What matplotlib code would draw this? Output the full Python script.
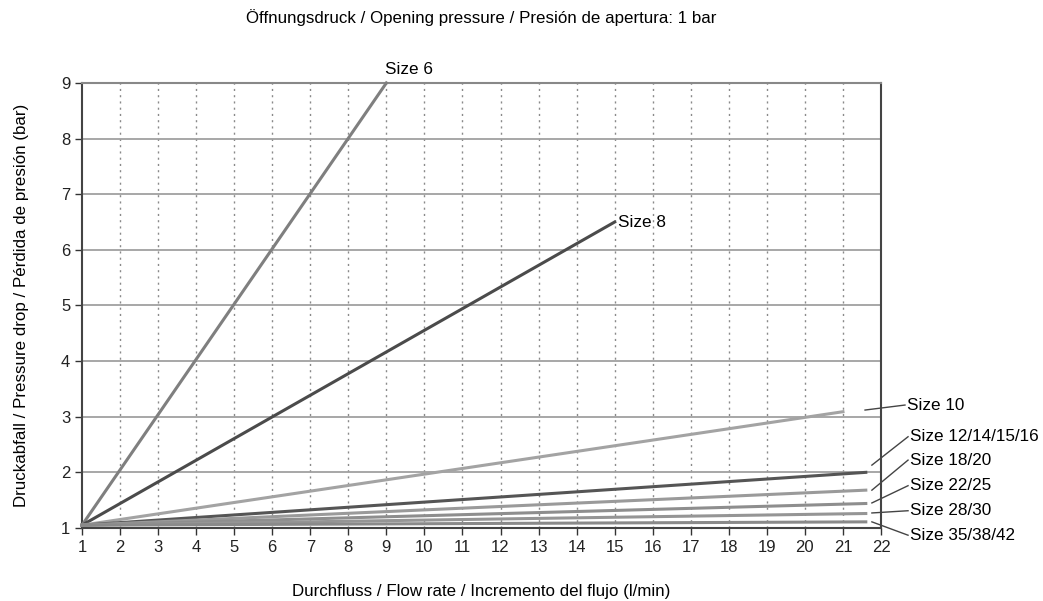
import matplotlib
matplotlib.use("Agg")
import matplotlib.pyplot as plt

plt.rcParams['font.family'] = ['Liberation Sans', 'DejaVu Sans']

# Kennlinien: Start- und Endpunkt je Baugröße
labels = ["Size 6", "Size 8", "Size 10", "Size 12/14/15/16",
          "Size 18/20", "Size 22/25", "Size 28/30", "Size 35/38/42"]
flow = [[1, 9], [1, 15], [1, 21], [1, 21.6], [1, 21.6], [1, 21.6], [1, 21.6], [1, 21.6]]
drop = [[1.05, 9.0], [1.05, 6.5], [1.05, 3.09], [1.05, 2.0],
        [1.05, 1.68], [1.05, 1.44], [1.05, 1.26], [1.05, 1.11]]
colors = ['#7f7f7f', '#4b4b4b', '#a3a3a3', '#555555',
          '#9a9a9a', '#8e8e8e', '#959595', '#8a8a8a']

# Beschriftungen rechts vom Diagramm (Leitlinie von -> nach)
lead_from = [(21.58, 3.12), (21.76, 2.13), (21.76, 1.68), (21.76, 1.45), (21.76, 1.27), (21.76, 1.11)]
lead_to = [(22.63, 3.21), (22.71, 2.64), (22.71, 2.22), (22.71, 1.76), (22.71, 1.31), (22.71, 0.87)]

fig = plt.figure(figsize=(10.43, 6.01), dpi=100)
ax = fig.add_axes([0.0786, 0.1215, 0.7661, 0.7405])

for i in range(len(labels)):
    ax.plot(flow[i], drop[i], color=colors[i], lw=2.2, zorder=3, clip_on=False)

ax.set_xlim(1, 22)
ax.set_ylim(1, 9)
ax.set_xticks(range(1, 23))
ax.set_yticks(range(1, 10))
ax.tick_params(direction='out', length=5, width=1, labelsize=12, color='#333333',
               labelcolor='#222222')
for x in range(2, 22):
    ax.axvline(x, color='#8a8a8a', lw=1, ls=(0, (1.5, 3)), zorder=1)
for y in range(2, 10):
    ax.axhline(y, color='#a0a0a0', lw=1.3, zorder=1)
for s in ax.spines.values():
    s.set_color('#444444')
    s.set_linewidth(1.5)
ax.spines['top'].set_color('#888888')

ax.text(8.96, 9.25, labels[0], fontsize=12.3, va='center', ha='left')
ax.text(15.1, 6.5, labels[1], fontsize=12.3, va='center', ha='left')
for j in range(6):
    (x0, y0), (x1, y1) = lead_from[j], lead_to[j]
    ax.plot([x0, x1], [y0, y1], color='#444444', lw=1, clip_on=False)
    ax.text(x1 + 0.05, y1, labels[j + 2], fontsize=12.3, va='center', ha='left')

ax.set_title("Öffnungsdruck / Opening pressure / Presión de apertura: 1 bar",
             fontsize=12.2, pad=43)
ax.set_xlabel("Durchfluss / Flow rate / Incremento del flujo (l/min)", fontsize=12.2, labelpad=21)
ax.set_ylabel("Druckabfall / Pressure drop / Pérdida de presión (bar)", fontsize=12.2, labelpad=23)

fig.savefig("out.png", dpi=100)
